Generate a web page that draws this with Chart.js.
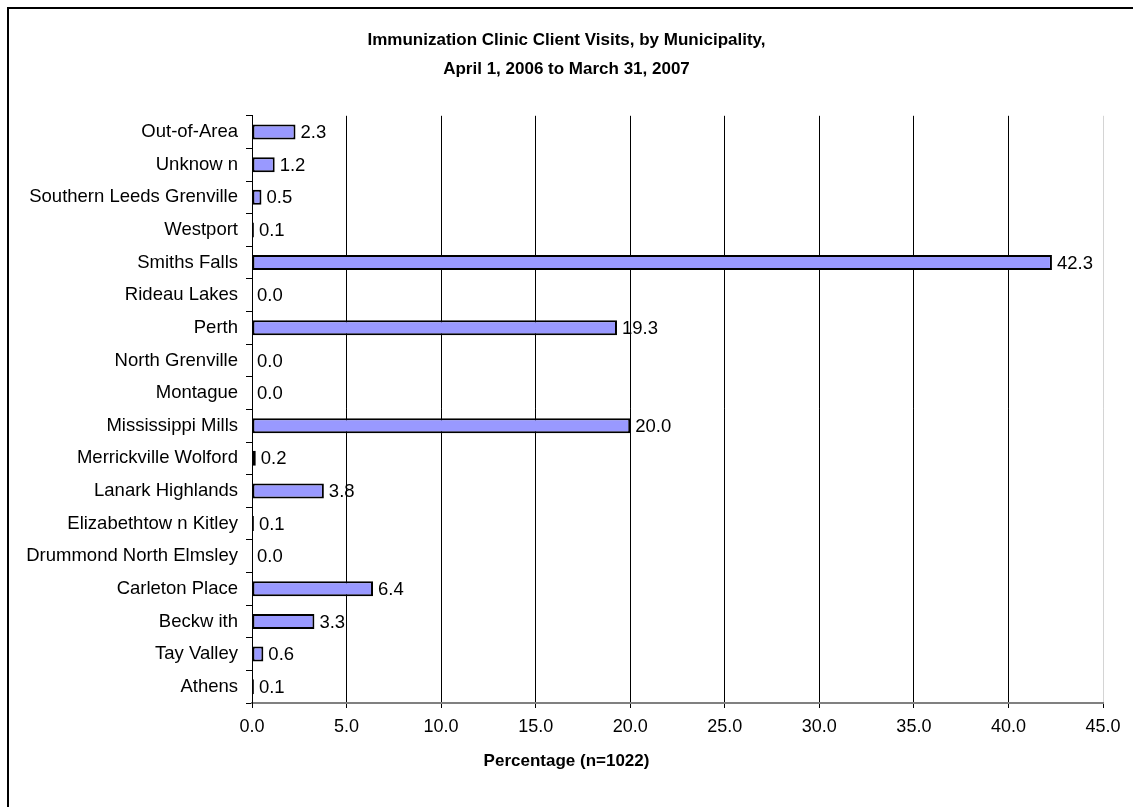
<!DOCTYPE html>
<html>
<head>
<meta charset="utf-8">
<script src="https://cdn.jsdelivr.net/npm/chart.js@4.4.1/dist/chart.umd.min.js"></script>
<style>
    html, body { margin: 0; padding: 0; background: #fff; }
    #wrap { width: 1133px; height: 807px; position: relative; }
</style>
</head>
<body>
<div id="wrap"><canvas id="chart"></canvas></div>
<script>
// Data (top to bottom)
const municipalities = [
    'Out-of-Area', 'Unknow n', 'Southern Leeds Grenville', 'Westport', 'Smiths Falls',
    'Rideau Lakes', 'Perth', 'North Grenville', 'Montague', 'Mississippi Mills',
    'Merrickville Wolford', 'Lanark Highlands', 'Elizabethtow n Kitley', 'Drummond North Elmsley',
    'Carleton Place', 'Beckw ith', 'Tay Valley', 'Athens'
];
const percentages = [2.3, 1.2, 0.5, 0.1, 42.3, 0.0, 19.3, 0.0, 0.0, 20.0, 0.2, 3.8, 0.1, 0.0, 6.4, 3.3, 0.6, 0.1];
const titleLines = ['Immunization Clinic Client Visits, by Municipality,', 'April 1, 2006 to March 31, 2007'];
const xAxisTitle = 'Percentage (n=1022)';

const fontFamily = "'Liberation Sans', Arial, sans-serif";

// outer frame around the whole chart
const framePlugin = {
    id: 'frame',
    beforeDraw(chart) {
        const ctx = chart.ctx;
        ctx.save();
        ctx.strokeStyle = '#000';
        ctx.lineWidth = 2;
        ctx.strokeRect(8, 8, 1140, 820);
        ctx.restore();
    }
};

// value labels at the end of each bar
const valueLabels = {
    id: 'valueLabels',
    afterDatasetsDraw(chart) {
        const ctx = chart.ctx;
        const meta = chart.getDatasetMeta(0);
        ctx.save();
        ctx.font = '18.5px ' + fontFamily;
        ctx.fillStyle = '#000';
        ctx.textAlign = 'left';
        ctx.textBaseline = 'middle';
        meta.data.forEach((bar, i) => {
            ctx.fillText(percentages[i].toFixed(1), bar.x + 5, bar.y + 1);
        });
        ctx.restore();
    }
};

new Chart(document.getElementById('chart'), {
    type: 'bar',
    data: {
        labels: municipalities,
        datasets: [{
            data: percentages,
            backgroundColor: '#9999FF',
            borderColor: '#000',
            borderWidth: 2,
            borderSkipped: false,
            categoryPercentage: 1,
            barPercentage: 0.46
        }]
    },
    options: {
        indexAxis: 'y',
        responsive: true,
        maintainAspectRatio: false,
        animation: false,
        layout: { padding: { top: 16, right: 0, left: 0, bottom: 0 } },
        plugins: {
            legend: { display: false },
            tooltip: { enabled: false },
            title: {
                display: true,
                text: titleLines,
                color: '#000',
                font: { family: fontFamily, size: 17, weight: 'bold', lineHeight: 1.7 },
                padding: { top: 9.5, bottom: 32.5 }
            },
            subtitle: {
                display: true,
                position: 'bottom',
                text: xAxisTitle,
                color: '#000',
                font: { family: fontFamily, size: 17, weight: 'bold', lineHeight: 1.2 },
                padding: { top: 7.8, bottom: 35.8 }
            }
        },
        scales: {
            x: {
                min: 0,
                max: 45,
                ticks: {
                    stepSize: 5,
                    color: '#000',
                    padding: 8,
                    font: { family: fontFamily, size: 18 },
                    callback: v => v.toFixed(1)
                },
                grid: {
                    color: ctx => (ctx.tick && ctx.tick.value === 45 ? '#d4d4d4' : '#000'),
                    tickColor: '#000',
                    tickLength: 5,
                    lineWidth: 1
                },
                border: { display: true, color: '#808080', width: 2 },
                afterFit: s => { s.height = 40; s.paddingRight = 30; }
            },
            y: {
                ticks: {
                    color: '#000',
                    padding: 8,
                    font: { family: fontFamily, size: 18.5 }
                },
                grid: {
                    drawOnChartArea: false,
                    tickColor: '#000',
                    tickLength: 6
                },
                border: { display: true, color: '#000', width: 1 },
                afterFit: s => { s.width = 252; }
            }
        }
    },
    plugins: [framePlugin, valueLabels]
});
</script>
</body>
</html>
